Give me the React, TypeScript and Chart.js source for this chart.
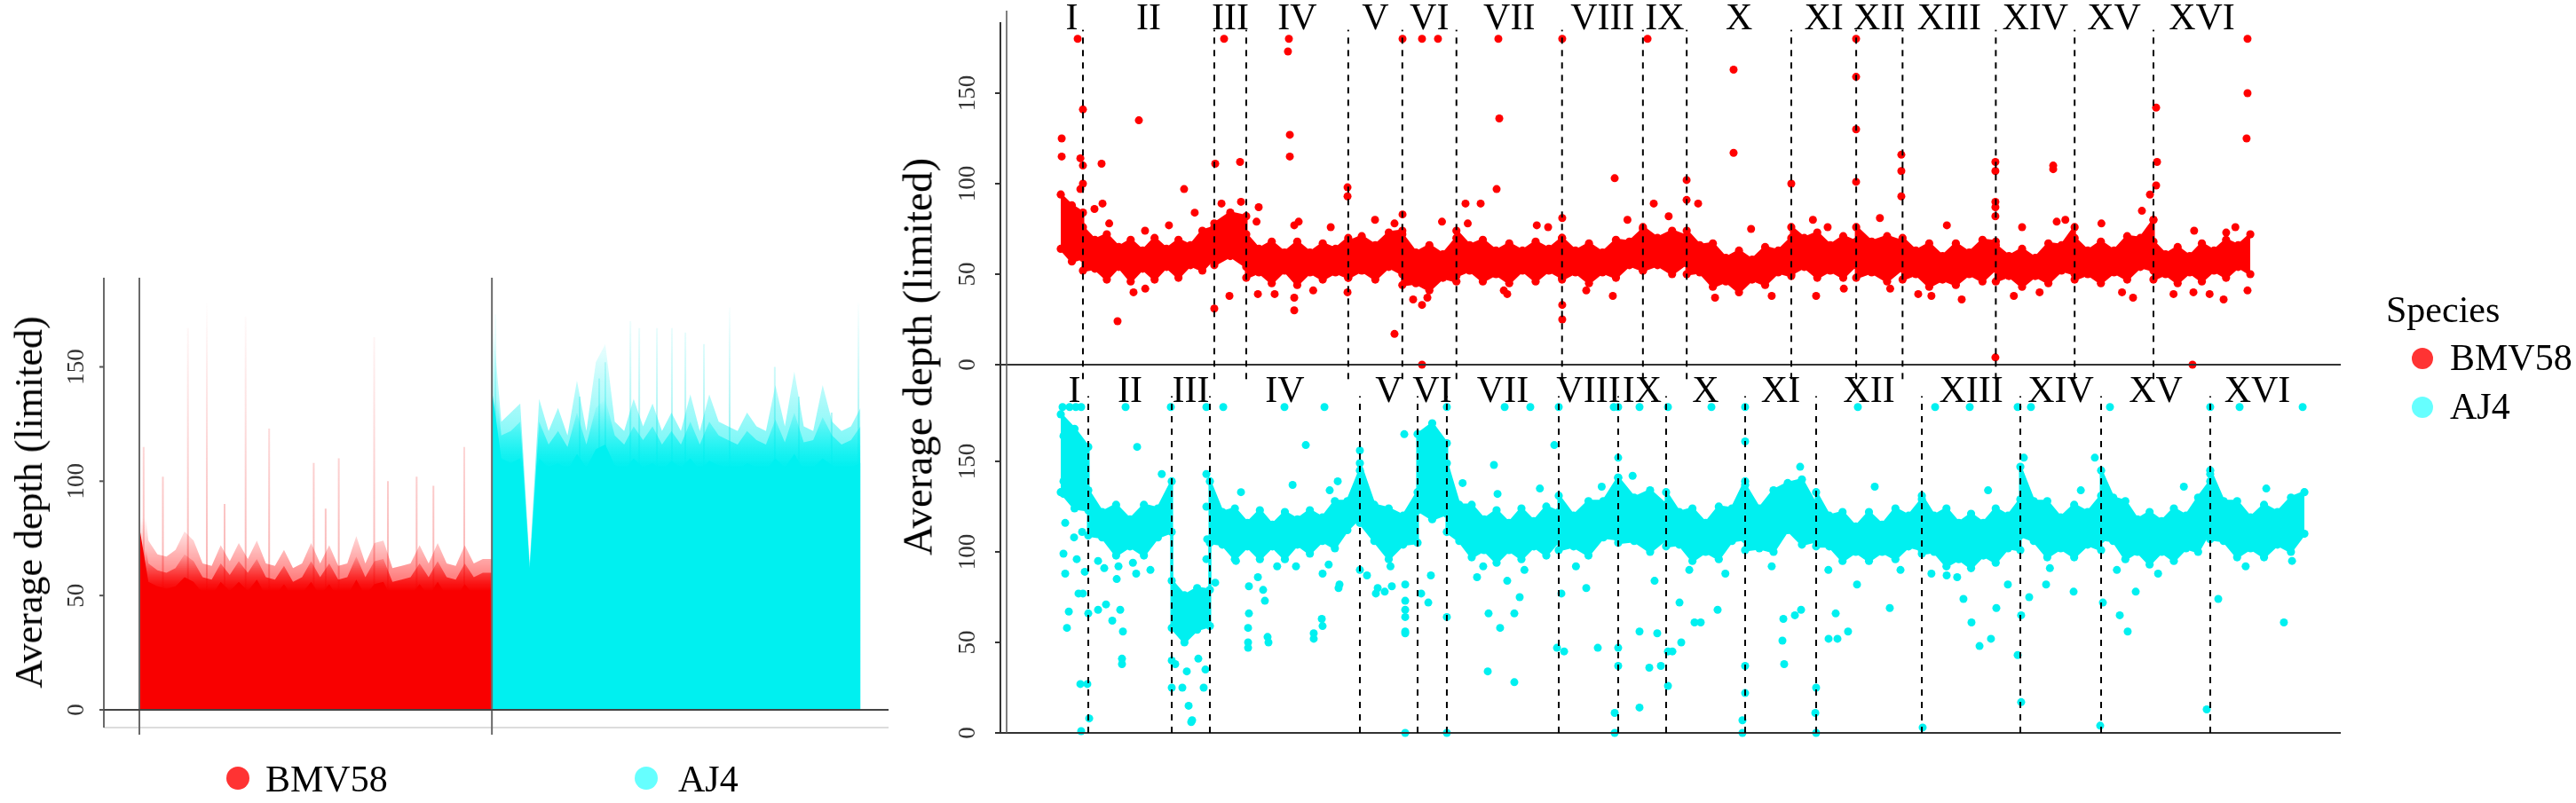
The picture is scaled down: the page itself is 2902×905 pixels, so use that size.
import React, { useEffect, useRef } from 'react';
import { Chart, registerables } from 'chart.js';
Chart.register(...registerables);

const FONT = "'Liberation Serif', 'Times New Roman', serif";
const RED = '#FF0000';
const CYAN = '#00F0F0';
const RED_LEG = 'rgba(255,0,0,0.8)';
const CYAN_LEG = 'rgba(0,255,255,0.6)';

const SPECIES = ['BMV58', 'AJ4'];
const CHROMS = ['I', 'II', 'III', 'IV', 'V', 'VI', 'VII', 'VIII', 'IX', 'X', 'XI', 'XII', 'XIII', 'XIV', 'XV', 'XVI'];
const Y_TICKS = [0, 50, 100, 150];
const Y_TITLE = 'Average depth (limited)';

// chromosome lengths (kb)
const BMV58_LEN_KB = [215, 1275, 310, 990, 525, 525, 1025, 785, 425, 1015, 630, 450, 905, 765, 765, 940];
const AJ4_LEN_KB = [267, 810, 370, 1456, 560, 284, 1086, 577, 465, 767, 689, 1026, 956, 784, 1059, 914];

// dense band envelope (upper / lower depth) per chromosome, evenly spaced bins
const BMV58_HI = [
  [94, 88, 84],
  [76, 69, 72, 65, 69, 63, 70, 64, 69, 66, 74, 76],
  [78, 84, 82],
  [72, 64, 68, 62, 68, 62, 67, 64, 70],
  [68, 71, 66, 73, 74],
  [72, 62, 66, 61, 70],
  [74, 66, 69, 63, 67, 63, 68, 64, 70],
  [70, 63, 67, 62, 69, 68, 75],
  [76, 70, 74, 71],
  [74, 66, 67, 59, 63, 58, 65, 63, 70],
  [76, 70, 73, 66, 71, 68],
  [76, 68, 71, 68],
  [70, 63, 67, 60, 67, 62, 69, 68],
  [66, 60, 64, 59, 67, 66, 76],
  [70, 63, 68, 63, 71, 70, 80],
  [68, 61, 65, 60, 67, 63, 69, 66, 72],
];
const BMV58_LO = [
  [64, 57, 59],
  [52, 53, 47, 54, 46, 53, 47, 54, 48, 55, 52, 59],
  [55, 60, 54],
  [48, 51, 45, 52, 44, 51, 47, 51, 48],
  [48, 52, 47, 54, 50],
  [44, 45, 41, 48, 46],
  [49, 52, 46, 50, 45, 52, 46, 52, 48],
  [47, 51, 45, 51, 48, 55, 52],
  [52, 55, 50, 56],
  [50, 51, 43, 46, 40, 47, 44, 51, 49],
  [50, 54, 48, 52, 48, 55],
  [48, 51, 46, 53],
  [47, 50, 43, 47, 44, 50, 46, 53],
  [46, 49, 43, 49, 45, 52, 50],
  [47, 50, 45, 51, 47, 54, 52],
  [47, 50, 45, 51, 46, 52, 48, 54, 50],
];
const AJ4_HI = [
  [176, 168, 158],
  [134, 122, 126, 118, 126, 124, 139],
  [84, 76, 80, 79],
  [139, 122, 124, 116, 123, 115, 122, 118, 123, 119, 128, 128, 145],
  [149, 126, 124, 120, 133],
  [165, 171, 160],
  [149, 126, 126, 118, 123, 116, 124, 117, 125, 122],
  [131, 120, 128, 128, 141],
  [141, 130, 134, 126],
  [133, 122, 124, 116, 125, 124, 139],
  [137, 124, 134, 138, 140, 126],
  [133, 120, 122, 114, 122, 115, 124, 120, 129],
  [131, 120, 124, 116, 121, 116, 124, 120, 129],
  [147, 128, 128, 119, 126, 122, 131],
  [145, 130, 128, 118, 122, 117, 124, 120, 130, 139],
  [145, 128, 128, 119, 126, 122, 130, 133],
];
const AJ4_LO = [
  [133, 124, 123],
  [109, 108, 98, 103, 98, 108, 111],
  [58, 50, 57, 59],
  [105, 104, 96, 103, 96, 103, 96, 104, 99, 106, 102, 112, 119],
  [116, 106, 96, 104, 105],
  [123, 118, 121],
  [111, 106, 97, 101, 94, 101, 96, 103, 98, 106],
  [101, 103, 98, 108, 107],
  [105, 106, 100, 107],
  [103, 104, 95, 100, 96, 106, 107],
  [101, 102, 100, 112, 104, 106],
  [103, 103, 95, 100, 95, 100, 96, 103, 101],
  [99, 100, 92, 96, 91, 98, 94, 102, 101],
  [109, 106, 97, 102, 97, 104, 101],
  [107, 106, 96, 100, 93, 100, 95, 102, 100, 112],
  [107, 106, 97, 102, 97, 104, 100, 110],
];

// scattered windows outside the dense band: [genome position kb, depth]
const BMV58_OUT = [
  [9, 125], [9, 115], [164, 180], [190, 114], [190, 97], [215, 141], [215, 110], [215, 100], [327, 86], [396, 111],
  [405, 89], [551, 24], [706, 40], [758, 135], [818, 74], [1197, 97], [1490, 31], [1499, 111], [1585, 180], [1637, 38],
  [1740, 112], [1749, 90], [1913, 39], [1921, 87], [2076, 39], [2205, 173], [2214, 180], [2223, 127], [2223, 115], [2266, 30],
  [2266, 37], [2266, 77], [2309, 79], [2783, 98], [2783, 93], [2783, 40], [3239, 17], [3239, 78], [3317, 180], [3317, 83],
  [3506, 180], [3506, 33], [3506, 0], [3558, 37], [3661, 180], [3928, 89], [4075, 89], [4230, 97], [4247, 180], [4256, 136],
  [4333, 39], [4730, 76], [4867, 180], [4867, 81], [4867, 33], [4867, 25], [5358, 38], [5376, 103], [5695, 180], [5755, 89],
  [6074, 102], [6074, 91], [6186, 89], [6530, 163], [6530, 117], [7090, 100], [7331, 38], [7443, 76], [7719, 180], [7719, 159],
  [7719, 130], [7719, 101], [8158, 116], [8158, 107], [8158, 93], [8322, 39], [8744, 36], [9071, 112], [9071, 107], [9071, 90],
  [9071, 87], [9071, 82], [9071, 4], [9330, 76], [9632, 110], [9632, 108], [9666, 79], [10407, 37], [10493, 85], [10571, 94],
  [10605, 80], [10631, 142], [10631, 99], [10640, 112], [10984, 0], [10993, 40], [11286, 36], [11311, 73], [11509, 125], [11518, 180],
  [11518, 150], [11518, 41],
  [470, 78], [820, 42], [1050, 77], [1300, 84], [1560, 89], [1900, 79], [2450, 41], [2620, 76], [3050, 80], [3420, 36],
  [3700, 79], [3950, 78], [4300, 41], [4620, 77], [5100, 41], [5500, 80], [5900, 82], [6350, 37], [6700, 75], [6900, 38],
  [7300, 80], [7600, 42], [7950, 81], [8050, 42], [8450, 38], [8600, 77], [9250, 38], [9500, 40], [9750, 80], [10100, 78],
  [10300, 40], [10800, 39], [11000, 74], [11150, 39], [11400, 76],
];
const AJ4_OUT = [
  [17, 180], [86, 180], [146, 180], [198, 180], [629, 180], [1068, 180], [1413, 180], [1577, 180], [2171, 180], [2559, 180],
  [3747, 180], [4308, 180], [4557, 180], [4833, 180], [5367, 180], [5410, 180], [5617, 180], [5893, 180], [6315, 180], [6642, 180],
  [7736, 180], [8486, 180], [8822, 180], [9287, 180], [9416, 180], [10183, 180], [11156, 180], [11441, 180], [12053, 180],
  [741, 158], [2378, 159], [3334, 165], [2903, 156], [26, 164], [26, 139], [26, 132], [26, 99], [43, 116], [43, 88],
  [155, 96], [215, 77], [172, 77], [78, 67], [60, 58], [190, 27], [258, 27], [276, 8], [198, 1], [267, 66],
  [233, 89], [129, 108], [207, 111], [362, 68], [362, 95], [439, 71], [500, 62], [577, 68], [603, 56], [594, 38],
  [594, 41], [422, 91], [543, 85], [732, 88], [870, 90], [1077, 40], [1077, 25], [1180, 25], [1241, 15], [1275, 7],
  [1335, 41], [1404, 35], [1387, 25], [1223, 34], [1111, 38], [1413, 143], [1413, 125], [1413, 96], [1421, 107], [1499, 83],
  [1826, 81], [1826, 66], [1818, 58], [1818, 50], [1964, 79], [1981, 73], [2007, 53], [1913, 86], [2541, 88], [2533, 63],
  [2455, 55], [2705, 82], [2283, 92], [1749, 133], [2610, 134], [2688, 139], [3076, 80], [3144, 78], [3213, 81], [3343, 73],
  [3343, 68], [3343, 56], [3343, 82], [3343, 55], [3343, 64], [3343, 0], [2972, 87], [2903, 90], [4204, 148], [7176, 147],
  [6642, 161], [5410, 152], [4790, 159], [4152, 66], [4264, 58], [4402, 66], [4402, 28], [4454, 75], [4144, 34], [4040, 86],
  [4333, 84], [4239, 132], [4816, 47], [4885, 45], [5212, 47], [4859, 77], [5410, 47], [5410, 37], [5376, 11], [5376, 0],
  [5100, 80], [5617, 56], [5617, 14], [5712, 36], [5789, 55], [5824, 37], [5893, 26], [5893, 45], [5936, 45], [6022, 50],
  [6151, 61], [6211, 61], [6005, 72], [5763, 84], [6375, 68], [6642, 37], [6642, 22], [6616, 7], [6616, 0], [7021, 38],
  [7004, 51], [7013, 63], [7125, 65], [7331, 25], [7331, 0], [7521, 66], [7538, 52], [7185, 68], [3058, 77], [3567, 72],
  [3747, 64], [3747, 0], [3592, 87], [3498, 77], [1818, 47], [2016, 50], [2455, 52], [2541, 59], [2696, 80], [1266, 6],
  [7728, 82], [7641, 56], [7323, 11], [7452, 52], [8046, 69], [8761, 74], [8839, 61], [8917, 48], [9080, 69], [9028, 52],
  [8598, 87], [9192, 82], [9321, 65], [9287, 43], [8365, 3], [9347, 152], [9399, 75], [9563, 82], [9830, 78], [9321, 17],
  [10036, 152], [10278, 65], [10355, 56], [10433, 78], [10114, 72], [10088, 4], [11156, 143], [11234, 74], [11871, 61], [11122, 13],
  [560, 92], [700, 94], [980, 143], [1700, 95], [2100, 92], [2250, 137], [2600, 93], [3200, 92], [3900, 138], [4100, 92],
  [4500, 90], [4650, 135], [5000, 92], [5250, 136], [5550, 142], [6100, 90], [6450, 88], [6900, 92], [7450, 90], [7900, 136],
  [8150, 90], [8450, 88], [8700, 86], [9000, 134], [9600, 91], [9900, 134], [10250, 90], [10650, 88], [10900, 136], [11500, 92],
  [11700, 135], [11950, 95],
];

// left panel: genome-wide depth profile (evenly spaced windows), density layers + sparse spikes [Mb, depth]
const BMV58_CORE = [80, 56, 54, 53, 54, 58, 56, 51, 50, 56, 52, 56, 52, 57, 50, 50, 55, 49, 51, 56, 50, 55, 49, 50, 57, 50, 55, 56, 48, 49, 50, 55, 50, 56, 50, 49, 55, 50, 52, 52];
const BMV58_HALO = [90, 64, 61, 60, 62, 68, 65, 58, 57, 64, 59, 65, 60, 66, 58, 57, 63, 56, 58, 65, 58, 64, 57, 58, 67, 58, 65, 66, 56, 57, 58, 64, 58, 65, 58, 57, 64, 58, 60, 60];
const BMV58_HALO2 = [112, 74, 68, 67, 70, 78, 74, 64, 63, 72, 65, 73, 66, 74, 64, 63, 70, 62, 64, 73, 64, 72, 63, 64, 76, 64, 73, 74, 62, 63, 64, 72, 64, 73, 64, 63, 72, 64, 66, 66];
const BMV58_SPIKES = [[0.14, 115], [0.77, 102], [1.59, 167], [2.21, 178], [2.79, 90], [3.48, 172], [4.25, 123], [5.71, 108], [6.1, 88], [6.53, 110], [7.69, 163], [8.14, 100], [9.08, 102], [9.63, 98], [10.64, 115]];
const AJ4_CORE = [140, 110, 108, 110, 60, 110, 106, 108, 105, 112, 106, 114, 116, 107, 105, 110, 106, 108, 105, 109, 106, 110, 105, 109, 107, 106, 105, 108, 106, 105, 110, 106, 112, 105, 106, 110, 107, 105, 106, 108];
const AJ4_HALO = [160, 120, 122, 126, 62, 126, 116, 122, 115, 130, 116, 132, 136, 120, 116, 124, 118, 124, 116, 122, 116, 126, 116, 126, 120, 118, 116, 122, 118, 116, 127, 117, 130, 117, 118, 128, 120, 116, 118, 124];
const AJ4_HALO2 = [174, 126, 130, 134, 64, 136, 122, 132, 120, 144, 122, 152, 160, 126, 122, 136, 124, 134, 122, 130, 122, 138, 122, 138, 126, 124, 122, 130, 124, 122, 142, 124, 148, 124, 122, 142, 126, 122, 124, 132];
const AJ4_SPIKES = [[11.66, 173], [14.42, 137], [15.06, 145], [15.26, 152], [16.08, 170], [16.37, 167], [16.95, 167], [17.44, 167], [17.88, 165], [18.49, 160], [19.33, 176], [20.81, 150], [21.6, 137], [22.67, 130], [23.55, 178]];

// axis ranges
const LEFT_X = [-1.163, 24.535];
const LEFT_Y = [-7.76, 189];
const RIGHT_X_KB = [-586, 12423];
const TOP_Y_MAX = 189.2;
const BOT_Y_MAX = 203.4;

const sum = (a: number[]) => a.reduce((s, v) => s + v, 0);
function starts(lens: number[]) {
  const s = [0];
  lens.forEach((l, i) => s.push(s[i] + l));
  return s;
}
function bandPts(lens: number[], vals: number[][]) {
  const st = starts(lens);
  const pts: any[] = [];
  vals.forEach((arr, c) => arr.forEach((v, i) => pts.push({ x: st[c] + (i / (arr.length - 1)) * lens[c], y: v })));
  return pts;
}
const outPts = (list: number[][]) => list.map(([x, y]) => ({ x, y }));
const profilePts = (vals: number[], start: number, len: number) =>
  vals.map((v, i) => ({ x: start + (i / (vals.length - 1)) * len, y: v }));

function seg(ctx: CanvasRenderingContext2D, x1: number, y1: number, x2: number, y2: number) {
  ctx.beginPath();
  ctx.moveTo(x1, y1);
  ctx.lineTo(x2, y2);
  ctx.stroke();
}
function rotatedText(ctx: CanvasRenderingContext2D, text: string, x: number, y: number) {
  ctx.save();
  ctx.translate(x, y);
  ctx.rotate(-Math.PI / 2);
  ctx.fillText(text, 0, 0);
  ctx.restore();
}

// vertical fade fill: opaque at value v0, fading to transparent at value v1
function fade(rgb: string, a0: number, v0: number, v1: number) {
  return (c: any) => {
    const chart = c.chart;
    if (!chart.chartArea) return `rgba(${rgb},${a0})`;
    const y = chart.scales.y;
    const g = chart.ctx.createLinearGradient(0, y.getPixelForValue(v0), 0, y.getPixelForValue(v1));
    g.addColorStop(0, `rgba(${rgb},${a0})`);
    g.addColorStop(1, `rgba(${rgb},0)`);
    return g;
  };
}

function leftConfig(): any {
  const bmvMb = sum(BMV58_LEN_KB) / 1000;
  const ajMb = sum(AJ4_LEN_KB) / 1000;
  const area = (vals: number[], start: number, len: number, color: any) => ({
    data: profilePts(vals, start, len),
    borderWidth: 0,
    borderColor: 'transparent',
    backgroundColor: color,
    pointRadius: 0,
    fill: 'origin',
    tension: 0,
  });
  const spikes = (list: number[][], color: any) => ({
    data: list.flatMap(([x, y]) => [{ x, y: 0 }, { x, y }, { x, y: null }]),
    borderWidth: 2,
    borderColor: color,
    pointRadius: 0,
    fill: false,
    spanGaps: false,
  });
  const decor = {
    id: 'leftDecor',
    afterDatasetsDraw(chart: any) {
      const { ctx, chartArea: a, scales } = chart;
      const x = scales.x;
      const y = scales.y;
      ctx.save();
      ctx.strokeStyle = '#dcdcdc';
      ctx.lineWidth = 2;
      seg(ctx, a.left, a.bottom, a.right, a.bottom);
      ctx.strokeStyle = '#6a6a6a';
      ctx.lineWidth = 2;
      seg(ctx, a.left, a.top, a.left, a.bottom);
      [0, bmvMb].forEach((v) => {
        const px = x.getPixelForValue(v);
        seg(ctx, px, a.top, px, a.bottom + 8);
      });
      ctx.strokeStyle = '#444';
      const y0 = y.getPixelForValue(0);
      seg(ctx, a.left, y0, a.right, y0);
      ctx.strokeStyle = '#555';
      Y_TICKS.forEach((v) => {
        const py = y.getPixelForValue(v);
        seg(ctx, a.left - 5, py, a.left, py);
      });
      ctx.fillStyle = '#333';
      ctx.font = `27px ${FONT}`;
      ctx.textAlign = 'center';
      ctx.textBaseline = 'middle';
      Y_TICKS.forEach((v) => rotatedText(ctx, String(v), a.left - 30, y.getPixelForValue(v)));
      ctx.restore();
    },
  };
  return {
    type: 'line',
    data: {
      datasets: [
        area(BMV58_HALO2, 0, bmvMb, fade('255,0,0', 0.55, 55, 84)),
        area(BMV58_HALO, 0, bmvMb, fade('242,0,0', 1, 52, 70)),
        area(BMV58_CORE, 0, bmvMb, '#F20000'),
        spikes(BMV58_SPIKES, fade('240,40,40', 0.35, 60, 180)),
        area(AJ4_HALO2, bmvMb, ajMb, fade('0,240,240', 0.55, 112, 168)),
        area(AJ4_HALO, bmvMb, ajMb, fade('0,240,240', 1, 106, 136)),
        area(AJ4_CORE, bmvMb, ajMb, '#00F0F0'),
        spikes(AJ4_SPIKES, fade('0,225,225', 0.4, 115, 180)),
      ],
    },
    options: {
      responsive: false,
      animation: false,
      devicePixelRatio: 1,
      events: [],
      layout: { padding: { left: 117, right: 9, top: 313, bottom: 85 } },
      scales: {
        x: { type: 'linear', min: LEFT_X[0], max: LEFT_X[1], display: false },
        y: { type: 'linear', min: LEFT_Y[0], max: LEFT_Y[1], display: false },
      },
      plugins: { legend: { display: false }, tooltip: { enabled: false } },
    },
    plugins: [decor],
  };
}

function rightConfig(lens: number[], hi: number[][], lo: number[][], out: number[][], color: string, yMax: number,
  labelBase: number, dashLo: number, dashHi: number, padTop: number, padBottom: number, extraTop: number): any {
  const bandLine = (vals: number[][], fill: any) => ({
    data: bandPts(lens, vals),
    borderColor: color,
    backgroundColor: color,
    borderWidth: 3,
    borderJoinStyle: 'round',
    borderCapStyle: 'round',
    pointRadius: 4.6,
    pointBackgroundColor: color,
    pointBorderWidth: 0,
    fill,
    tension: 0,
    clip: false,
  });
  const decor = {
    id: 'rightDecor',
    afterDatasetsDraw(chart: any) {
      const { ctx, chartArea: a, scales } = chart;
      const x = scales.x;
      const y = scales.y;
      const st = starts(lens);
      ctx.save();
      ctx.strokeStyle = '#333';
      ctx.lineWidth = 2;
      const y0 = y.getPixelForValue(0);
      seg(ctx, a.left, y0, a.right, y0);
      seg(ctx, a.left, a.top, a.left, a.bottom);
      ctx.strokeStyle = '#555';
      ctx.lineWidth = 1.5;
      seg(ctx, a.left + 7, a.top - extraTop, a.left + 7, a.bottom);
      ctx.strokeStyle = '#333';
      ctx.lineWidth = 2;
      Y_TICKS.forEach((v) => {
        const py = y.getPixelForValue(v);
        seg(ctx, a.left - 6, py, a.left, py);
      });
      ctx.setLineDash([7, 7]);
      ctx.strokeStyle = '#000';
      ctx.lineWidth = 2;
      for (let i = 1; i < lens.length; i++) {
        const px = x.getPixelForValue(st[i]);
        seg(ctx, px, y.getPixelForValue(dashLo), px, y.getPixelForValue(dashHi));
      }
      ctx.setLineDash([]);
      ctx.fillStyle = '#000';
      ctx.font = `42px ${FONT}`;
      ctx.textAlign = 'center';
      ctx.textBaseline = 'alphabetic';
      CHROMS.forEach((c, i) => ctx.fillText(c, x.getPixelForValue(st[i] + lens[i] / 2), y.getPixelForValue(labelBase)));
      ctx.fillStyle = '#333';
      ctx.font = `27px ${FONT}`;
      ctx.textBaseline = 'middle';
      Y_TICKS.forEach((v) => rotatedText(ctx, String(v), a.left - 36, y.getPixelForValue(v)));
      ctx.restore();
    },
  };
  return {
    type: 'line',
    data: {
      datasets: [
        bandLine(hi, '+1'),
        bandLine(lo, false),
        {
          data: outPts(out),
          showLine: false,
          pointRadius: 4.5,
          pointBackgroundColor: color,
          pointBorderWidth: 0,
          borderColor: color,
          clip: false,
        },
      ],
    },
    options: {
      responsive: false,
      animation: false,
      devicePixelRatio: 1,
      events: [],
      layout: { padding: { left: 137, right: 265, top: padTop, bottom: padBottom } },
      scales: {
        x: { type: 'linear', min: RIGHT_X_KB[0], max: RIGHT_X_KB[1], display: false },
        y: { type: 'linear', min: 0, max: yMax, display: false },
      },
      plugins: { legend: { display: false }, tooltip: { enabled: false } },
    },
    plugins: [decor],
  };
}

const abs = (s: any): any => ({ position: 'absolute', ...s });
const textStyle = (size: number): any => ({ fontFamily: FONT, fontSize: size, lineHeight: `${size}px`, whiteSpace: 'nowrap', color: '#000' });

function Dot({ cx, cy, r, color }: any) {
  return <div style={abs({ left: cx - r, top: cy - r, width: 2 * r, height: 2 * r, borderRadius: '50%', background: color })} />;
}

export default function App() {
  const leftRef = useRef<HTMLCanvasElement>(null);
  const topRef = useRef<HTMLCanvasElement>(null);
  const botRef = useRef<HTMLCanvasElement>(null);

  useEffect(() => {
    const charts: Chart[] = [];
    if (leftRef.current) charts.push(new Chart(leftRef.current, leftConfig()));
    if (topRef.current)
      charts.push(new Chart(topRef.current, rightConfig(BMV58_LEN_KB, BMV58_HI, BMV58_LO, BMV58_OUT, RED, TOP_Y_MAX, 185.5, -8, 185, 25, 29, 13)));
    if (botRef.current)
      charts.push(new Chart(botRef.current, rightConfig(AJ4_LEN_KB, AJ4_HI, AJ4_LO, AJ4_OUT, CYAN, BOT_Y_MAX, 183, 0, 186, 11, 79, 0)));
    return () => charts.forEach((c) => c.destroy());
  }, []);

  return (
    <div style={abs({ left: 0, top: 0, width: 2902, height: 905, background: '#fff', overflow: 'hidden' })}>
      <canvas ref={leftRef} width={1010} height={905} style={abs({ left: 0, top: 0, width: 1010, height: 905 })} />
      <canvas ref={topRef} width={1912} height={440} style={abs({ left: 990, top: 0, width: 1912, height: 440 })} />
      <canvas ref={botRef} width={1912} height={505} style={abs({ left: 990, top: 400, width: 1912, height: 505 })} />

      <div style={abs({ left: 33, top: 566, transform: 'translate(-50%, -50%) rotate(-90deg)', ...textStyle(44) })}>{Y_TITLE}</div>
      <div style={abs({ left: 1034, top: 402, transform: 'translate(-50%, -50%) rotate(-90deg)', ...textStyle(47) })}>{Y_TITLE}</div>

      <Dot cx={268} cy={877} r={13} color={RED_LEG} />
      <div style={abs({ left: 299, top: 857, ...textStyle(42) })}>{SPECIES[0]}</div>
      <Dot cx={728} cy={877} r={13} color={CYAN_LEG} />
      <div style={abs({ left: 764, top: 857, ...textStyle(42) })}>{SPECIES[1]}</div>

      <div style={abs({ left: 2688, top: 328, ...textStyle(42) })}>Species</div>
      <Dot cx={2729} cy={404} r={12} color={RED_LEG} />
      <div style={abs({ left: 2760, top: 382, ...textStyle(42) })}>{SPECIES[0]}</div>
      <Dot cx={2729} cy={459} r={12} color={CYAN_LEG} />
      <div style={abs({ left: 2760, top: 437, ...textStyle(42) })}>{SPECIES[1]}</div>
    </div>
  );
}
